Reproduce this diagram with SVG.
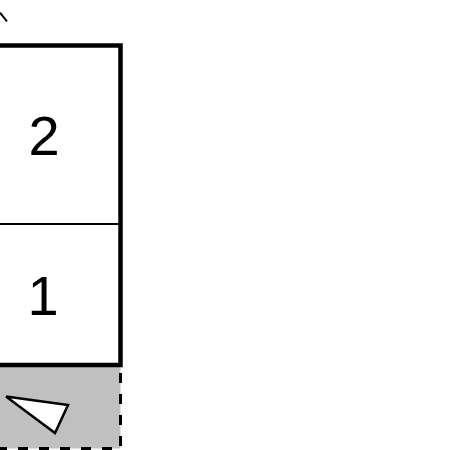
<svg xmlns="http://www.w3.org/2000/svg" width="450" height="450" viewBox="0 0 450 450">
  <style>
    .lbl { font-family: "Liberation Sans", Arial, sans-serif; font-size: 56px; fill: #000; text-anchor: middle; }
    .thick { fill: none; stroke: #000; stroke-width: 4.5; }
    .dash { fill: none; stroke: #000; stroke-width: 3; stroke-dasharray: 10 11; }
  </style>
  <rect width="450" height="450" fill="#fff"/>
  <g id="connectors">
    <line x1="0" y1="12.5" x2="7" y2="21.5" stroke="#000" stroke-width="2"/>
  </g>
  <g id="cell-grey">
    <rect x="-10" y="365" width="130.5" height="83.5" fill="#c0c0c0"/>
    <line class="dash" x1="120.5" y1="373" x2="120.5" y2="448"/>
    <line class="dash" x1="112" y1="448.5" x2="-10" y2="448.5"/>
    <polygon points="6,396.5 68,405 55,433" fill="#fff" stroke="#000" stroke-width="2.5" stroke-linejoin="miter"/>
  </g>
  <g id="cell-2">
    <text class="lbl" x="44" y="155">2</text>
  </g>
  <g id="cell-1">
    <text class="lbl" x="43" y="315">1</text>
  </g>
  <g id="frame">
    <line x1="-10" y1="224" x2="120" y2="224" stroke="#000" stroke-width="2"/>
    <polyline class="thick" points="-10,45.5 120.5,45.5 120.5,365 -10,365"/>
  </g>
</svg>
